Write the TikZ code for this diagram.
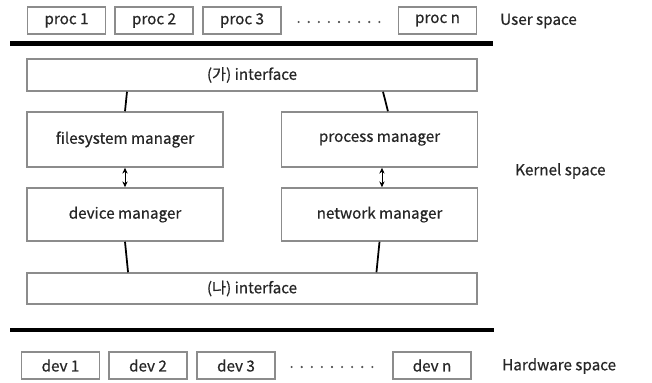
\documentclass[tikz,border=0pt]{standalone}
\usepackage{fontspec}
\setmainfont[FakeBold=0.5]{Noto Sans CJK KR}
\usetikzlibrary{arrows.meta}

\begin{document}
\begin{tikzpicture}[x=0.03cm,y=-0.03cm,
    box/.style={draw=gray!90,line width=1.3pt,fill=white,inner sep=0pt,
        text=black!85,font=\fontsize{13}{15}\selectfont},
    unitbox/.style={box,minimum width=78*0.03cm,minimum height=27*0.03cm},
    wide/.style={box,minimum width=450*0.03cm},
    manager/.style={box,minimum width=196*0.03cm},
    space/.style={anchor=west,inner sep=0pt,text=black!85,font=\fontsize{13}{15}\selectfont},
    dotrow/.style={inner sep=0pt,text=black!70,font=\fontsize{13}{15}\selectfont},
    link/.style={line width=1.5pt},
    updown/.style={line width=0.7pt,{Stealth[length=5pt,width=4.5pt]}-{Stealth[length=5pt,width=4.5pt]}}]

% page size of the reference
    \useasboundingbox (0,0) rectangle (652,382);

% user space: processes
    \node[unitbox] (proc1) at (66.5,20.5) {proc 1};
    \node[unitbox] (proc2) at (154,20.5) {proc 2};
    \node[unitbox] (proc3) at (242,20.5) {proc 3};
    \node[dotrow] (pdots) at (339,22) {.\hspace{5pt}.\hspace{5pt}.\hspace{5pt}.\hspace{5pt}.\hspace{5pt}.\hspace{5pt}.\hspace{5pt}.\hspace{5pt}.};
    \node[unitbox] (procn) at (437.5,20.5) {proc n};
    \node[space] (user) at (500,21) {User space};

% separator between user and kernel
    \draw[line width=3.5pt] (10,43.5) -- (493,43.5);

% kernel space
    \node[wide,minimum height=32*0.03cm] (ifa) at (252,75) {(가) interface};
    \node[manager,minimum height=55*0.03cm] (fsm) at (125,139.5) {filesystem manager};
    \node[manager,minimum height=55*0.03cm] (psm) at (379.5,139.5) {process manager};
    \node[manager,minimum height=53*0.03cm] (dvm) at (125,214.5) {device manager};
    \node[manager,minimum height=53*0.03cm] (nwm) at (379.5,214.5) {network manager};
    \node[wide,minimum height=31*0.03cm] (ifb) at (252,288.5) {(나) interface};
    \node[space] (kernel) at (515,171) {Kernel space};

% links between the kernel parts
    \draw[link] ([xshift=1.7pt]fsm.north |- ifa.south) -- (fsm.north);
    \draw[link] ([xshift=3pt]psm.north |- ifa.south) -- ([xshift=7.2pt]psm.north);
    \draw[updown] (fsm.south) -- (dvm.north);
    \draw[updown] ([xshift=2.1pt]psm.south) -- ([xshift=2.1pt]nwm.north);
    \draw[link] (dvm.south) -- ([xshift=2.6pt]dvm.south |- ifb.north);
    \draw[link] (nwm.south) -- ([xshift=-2.6pt]nwm.south |- ifb.north);

% separator between kernel and hardware
    \draw[line width=3.5pt] (10,330) -- (494,330);

% hardware space: devices
    \node[unitbox] (dev1) at (60.5,365.5) {dev 1};
    \node[unitbox] (dev2) at (148,365.5) {dev 2};
    \node[unitbox] (dev3) at (236,365.5) {dev 3};
    \node[dotrow] (ddots) at (332,367) {.\hspace{5pt}.\hspace{5pt}.\hspace{5pt}.\hspace{5pt}.\hspace{5pt}.\hspace{5pt}.\hspace{5pt}.\hspace{5pt}.};
    \node[unitbox] (devn) at (432,365.5) {dev n};
    \node[space] (hw) at (502,366) {Hardware space};

\end{tikzpicture}
\end{document}
